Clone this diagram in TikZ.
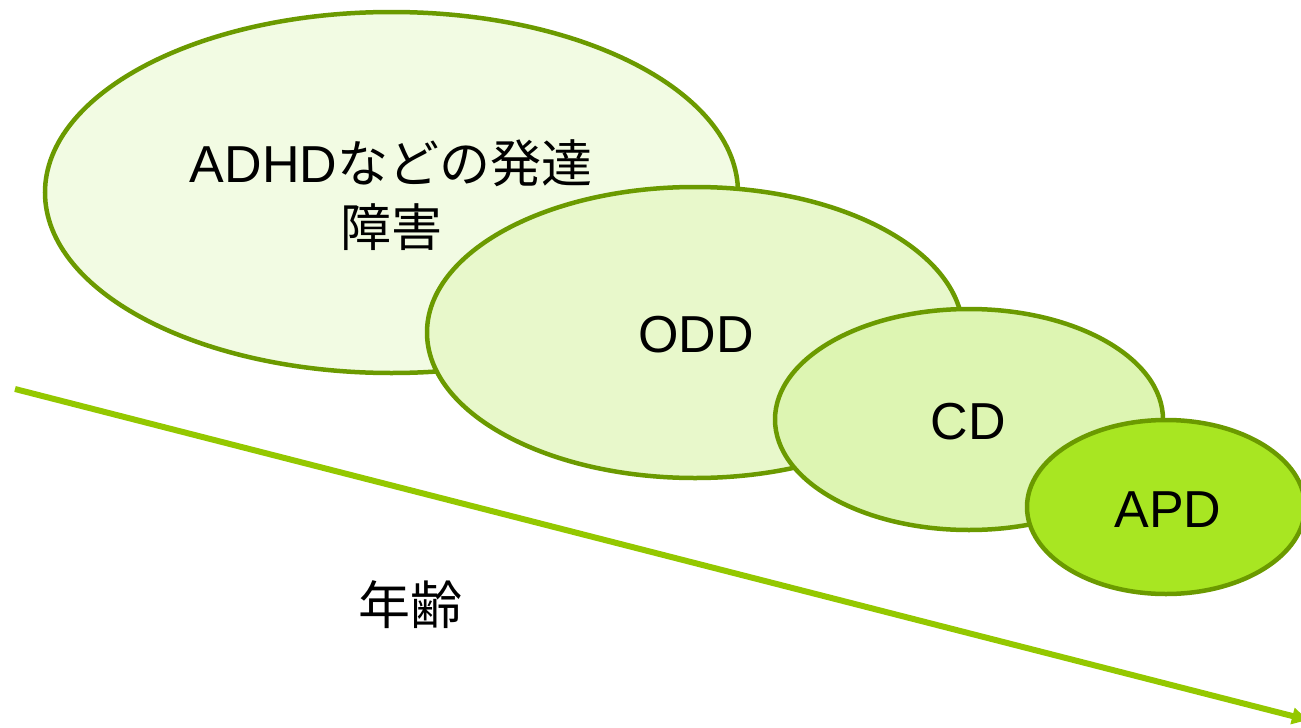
\documentclass[tikz,border=0pt]{standalone}
\usepackage{fontspec}
\setmainfont{Liberation Sans}
\newfontfamily\cjk{Noto Sans CJK JP}
\usetikzlibrary{shapes.geometric,arrows.meta}
\definecolor{edgeg}{HTML}{6B9A00}
\definecolor{fillA}{HTML}{F2FBE3}
\definecolor{fillB}{HTML}{E8F8CB}
\definecolor{fillC}{HTML}{DDF5B2}
\definecolor{fillD}{HTML}{A8E622}
\definecolor{arrowg}{HTML}{94C800}
\tikzset{
  blob/.style={ellipse, draw=edgeg, line width=4.5pt, inner sep=0pt, align=center,
    text=black},
  agearrow/.style={draw=arrowg, line width=6pt, -{Triangle[length=16pt,width=16pt]}},
  lbl/.style={font=\fontsize{52}{64}\selectfont, text=black, inner sep=0pt},
  jlbl/.style={font=\fontsize{52}{64}\selectfont, text=black, inner sep=0pt}
}
\begin{document}
\begin{tikzpicture}[x=1pt,y=-1pt]
\useasboundingbox (0,0) rectangle (1301,728);
\coordinate (s) at (15,389);
\coordinate (e) at (1308,720);
\draw[agearrow] (s) -- (e);
\node[blob, fill=fillA, minimum width=693pt, minimum height=361pt] (adhd) at (391.5,192.5) {};
\node[lbl, align=center] (adhdt) at (391,195) {ADHD{\cjk\fontsize{51}{64}\selectfont などの発達}\\{\cjk\fontsize{51}{64}\selectfont 障害}};
\node[blob, fill=fillB, minimum width=536pt, minimum height=291pt] (odd) at (695,332.5) {};
\node[lbl] (oddt) at (696,335) {ODD};
\node[blob, fill=fillC, minimum width=388pt, minimum height=221pt] (cd) at (969,419.5) {};
\node[lbl] (cdt) at (968,422) {CD};
\node[blob, fill=fillD, minimum width=278pt, minimum height=174pt] (apd) at (1166,507) {};
\node[lbl] (apdt) at (1168,510) {APD};
\node[jlbl] (age) at (410,605) {\cjk 年齢};
\end{tikzpicture}
\end{document}
